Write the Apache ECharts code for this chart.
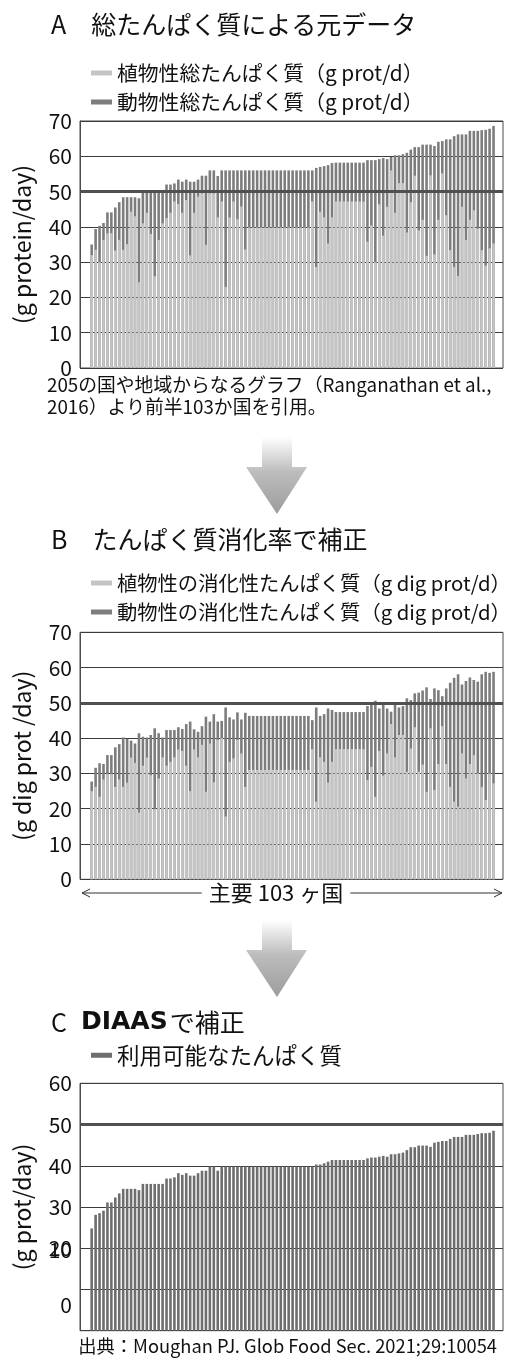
<!DOCTYPE html>
<html>
<head>
<meta charset="utf-8">
<script src="https://cdn.jsdelivr.net/npm/echarts@6/dist/echarts.min.js"></script>
<style>
  html, body { margin: 0; padding: 0; background: #fff; }
  #chart { width: 505px; height: 1362px; }
</style>
</head>
<body>
<div id="chart"></div>
<script>
// 103 countries, ordered by total protein supply
const countries = Array.from({ length: 103 }, (_, i) => String(i + 1));

// A: total protein supply (g/day) and its plant-based part
const totalA = [
  35.0, 39.4, 40.3, 41.1, 44.1, 44.1, 45.5, 47.0, 48.4, 48.4,
  48.4, 48.4, 48.1, 50.0, 50.0, 50.0, 50.0, 50.0, 50.0, 52.0,
  52.0, 52.3, 53.4, 52.8, 53.4, 52.8, 52.8, 53.4, 54.5, 54.5,
  56.0, 56.0, 54.4, 56.0, 56.0, 56.0, 56.0, 56.0, 56.0, 56.0,
  56.0, 56.0, 56.0, 56.0, 56.0, 56.0, 56.0, 56.0, 56.0, 56.0,
  56.0, 56.0, 56.0, 56.0, 56.0, 56.0, 56.0, 56.7, 57.0, 57.2,
  57.5, 58.1, 58.2, 58.2, 58.2, 58.2, 58.2, 58.2, 58.2, 58.2,
  58.9, 58.9, 58.9, 59.2, 59.5, 59.2, 59.8, 60.3, 60.3, 60.6,
  61.0, 61.9, 62.6, 62.6, 63.3, 63.3, 63.3, 62.9, 64.1, 64.3,
  64.8, 64.8, 65.7, 66.2, 66.2, 66.2, 67.2, 67.2, 67.2, 67.4,
  67.5, 67.8, 68.6
];
const plantA = [
  32.0, 33.5, 30.0, 36.3, 38.2, 38.2, 33.3, 36.3, 33.5, 35.1,
  44.3, 43.0, 24.3, 41.0, 44.0, 38.0, 26.0, 36.3, 41.0, 42.5,
  44.0, 47.2, 46.5, 44.0, 47.6, 31.9, 44.0, 48.6, 49.5, 34.9,
  49.5, 49.5, 42.7, 47.2, 23.0, 42.7, 47.2, 42.2, 45.8, 33.6,
  39.8, 39.8, 39.8, 39.8, 39.8, 39.8, 39.8, 39.8, 39.8, 39.8,
  39.8, 39.8, 39.8, 39.8, 39.8, 39.8, 47.2, 28.6, 44.3, 42.7,
  35.3, 42.7, 47.2, 47.2, 47.2, 47.2, 47.2, 47.2, 47.2, 47.2,
  35.8, 40.4, 30.0, 46.4, 37.5, 45.7, 56.0, 44.0, 52.4, 52.4,
  38.4, 47.0, 54.5, 39.0, 42.0, 31.8, 54.6, 32.2, 42.0, 55.2,
  43.3, 33.4, 28.6, 26.1, 45.7, 36.3, 42.0, 44.7, 39.5, 33.4,
  29.0, 33.9, 35.3
];

// B: digestible protein (g/day) and its plant-based part
const totalB = [
  27.7, 31.6, 32.9, 32.7, 35.2, 35.2, 37.4, 38.3, 40.2, 39.8,
  39.3, 38.5, 41.4, 40.4, 40.2, 40.9, 42.8, 41.4, 40.2, 42.3,
  42.3, 42.3, 43.1, 42.6, 44.0, 44.7, 42.5, 41.8, 43.4, 46.1,
  44.7, 46.8, 44.7, 44.9, 48.7, 45.9, 45.3, 47.3, 45.3, 47.2,
  46.3, 46.3, 46.3, 46.3, 46.3, 46.3, 46.3, 46.3, 46.3, 46.3,
  46.3, 46.3, 46.3, 46.3, 46.3, 46.3, 45.1, 48.7, 46.3, 46.8,
  48.4, 48.0, 47.4, 47.4, 47.4, 47.4, 47.4, 47.4, 47.4, 47.4,
  49.1, 49.9, 50.6, 48.4, 49.7, 48.4, 47.5, 49.7, 48.7, 49.1,
  51.3, 50.8, 52.7, 52.9, 53.5, 54.4, 51.1, 54.1, 53.6, 51.9,
  54.1, 55.7, 57.1, 58.1, 55.2, 56.2, 57.2, 56.5, 56.0, 58.1,
  58.8, 58.5, 58.8
];
const plantB = [
  25.0, 26.2, 23.4, 28.3, 29.8, 29.8, 26.2, 28.3, 26.2, 27.4,
  34.5, 33.0, 18.9, 32.2, 34.5, 29.5, 19.9, 28.6, 34.6, 32.2,
  33.3, 34.6, 36.8, 36.4, 32.2, 25.0, 36.8, 34.6, 38.1, 24.8,
  38.5, 27.5, 39.5, 40.0, 17.8, 33.3, 34.3, 39.5, 35.7, 26.2,
  31.0, 31.0, 31.0, 31.0, 31.0, 31.0, 31.0, 31.0, 31.0, 31.0,
  31.0, 31.0, 31.0, 31.0, 31.0, 31.0, 36.9, 22.0, 34.6, 33.3,
  27.4, 33.3, 36.9, 36.9, 36.9, 36.9, 36.9, 36.9, 36.9, 36.9,
  28.1, 31.9, 23.4, 36.4, 29.4, 35.7, 44.0, 34.6, 40.9, 40.9,
  30.5, 37.1, 43.1, 30.5, 32.5, 24.8, 42.8, 25.3, 32.7, 43.4,
  32.7, 26.2, 22.0, 20.6, 35.7, 28.6, 32.7, 35.2, 30.0, 26.2,
  22.5, 30.0, 27.2
];

// C: available protein after DIAAS correction (g/day)
const availableC = [
  24.8, 28.1, 28.5, 29.1, 31.1, 31.1, 32.3, 33.3, 34.4, 34.4,
  34.4, 34.4, 34.1, 35.6, 35.6, 35.6, 35.6, 35.6, 35.6, 36.9,
  36.9, 37.2, 38.2, 37.8, 38.2, 37.6, 37.6, 38.2, 38.8, 38.8,
  39.8, 39.8, 38.8, 39.8, 39.8, 39.8, 39.8, 39.8, 39.8, 39.8,
  39.8, 39.8, 39.8, 39.8, 39.8, 39.8, 39.8, 39.8, 39.8, 39.8,
  39.8, 39.8, 39.8, 39.8, 39.8, 39.8, 39.8, 40.3, 40.3, 40.6,
  41.0, 41.4, 41.4, 41.4, 41.4, 41.4, 41.4, 41.4, 41.4, 41.4,
  41.8, 42.0, 42.0, 42.2, 42.4, 42.2, 42.8, 42.8, 43.0, 43.2,
  43.8, 44.5, 44.5, 44.9, 44.9, 44.9, 44.6, 45.6, 45.8, 46.0,
  46.0, 46.5, 47.0, 47.0, 47.0, 47.5, 47.5, 47.5, 47.7, 47.9,
  47.9, 48.0, 48.5
];

// Reference requirement level drawn across each panel
const requirement = 50;

const FONT = '"Noto Sans CJK JP", "Noto Sans", sans-serif';
const LIGHT = '#c4c4c4';
const DARK = '#7d7d7d';
const DARK_C = '#6e6e6e';
const INK = '#111';

const names = {
  plantA: '植物性総たんぱく質（g prot/d）',
  animalA: '動物性総たんぱく質（g prot/d）',
  plantB: '植物性の消化性たんぱく質（g dig prot/d）',
  animalB: '動物性の消化性たんぱく質（g dig prot/d）',
  availC: '利用可能なたんぱく質'
};

// Plot frames (with ticks and grid lines) and the narrower band holding the bars
const panels = [
  { top: 121, height: 247, max: 70, axisName: '(g protein/day)' },
  { top: 632.3, height: 247, max: 70, axisName: '(g dig prot /day)' },
  { top: 1083.3, height: 247.4, max: 60, axisName: '(g prot/day)' }
];
const FRAME_LEFT = 80, FRAME_WIDTH = 423;
const BAR_LEFT = 89.7, BAR_WIDTH = 405.8;
const TICK_SIZE = 21;

const grid = [], xAxis = [], yAxis = [];
panels.forEach((p, k) => {
  grid.push({ left: FRAME_LEFT, top: p.top, width: FRAME_WIDTH, height: p.height,
              show: true, borderColor: '#4a4a4a', borderWidth: 1, backgroundColor: 'transparent' });
  grid.push({ left: BAR_LEFT, top: p.top, width: BAR_WIDTH, height: p.height });
  xAxis.push({ gridIndex: 2 * k, type: 'value', min: 0, max: 1, show: false });
  xAxis.push({ gridIndex: 2 * k + 1, type: 'category', data: countries, show: false });
  const isC = k === 2;
  yAxis.push({
    gridIndex: 2 * k, type: 'value', min: 0, max: p.max, interval: 10,
    name: p.axisName, nameLocation: 'middle', nameGap: 46, nameRotate: 90,
    nameTextStyle: { fontFamily: FONT, fontSize: 23, color: INK },
    axisLine: { show: true, lineStyle: { color: '#4a4a4a', width: 1 } },
    axisTick: { show: false },
    axisLabel: {
      fontFamily: FONT, fontSize: TICK_SIZE, color: INK, margin: 8,
      formatter: isC
        ? (v) => (v === 10 ? '{u10|10}' : v === 0 ? '{u0|0}' : String(v))
        : (v) => String(v),
      rich: {
        u10: { fontFamily: FONT, fontSize: TICK_SIZE, color: INK, padding: [0, 0, 78, 0] },
        u0: { fontFamily: FONT, fontSize: TICK_SIZE, color: INK, padding: [0, 0, 52, 0] }
      }
    },
    splitLine: { show: true, lineStyle: { color: '#3c3c3c', width: 1 } }
  });
  yAxis.push({ gridIndex: 2 * k + 1, type: 'value', min: 0, max: p.max, show: false });
});

function barSeries(name, data, k, color) {
  return {
    name, type: 'bar', data,
    xAxisIndex: 2 * k + 1, yAxisIndex: 2 * k + 1,
    barWidth: '66%', barGap: '-100%',
    itemStyle: { color }, silent: true, z: 3,
    animation: false
  };
}
function levelLine(k) {
  return {
    type: 'line', data: [], xAxisIndex: 2 * k, yAxisIndex: 2 * k, z: 6,
    silent: true, animation: false,
    markLine: {
      symbol: 'none', silent: true, animation: false,
      label: { show: false },
      lineStyle: { color: '#505050', width: 3, type: 'solid' },
      data: [{ yAxis: requirement }]
    }
  };
}

const series = [
  barSeries(names.animalA, totalA, 0, DARK),
  barSeries(names.plantA, plantA, 0, LIGHT),
  levelLine(0),
  barSeries(names.animalB, totalB, 1, DARK),
  barSeries(names.plantB, plantB, 1, LIGHT),
  levelLine(1),
  barSeries(names.availC, availableC, 2, DARK_C),
  levelLine(2)
];

function legendAt(top, data, size) {
  return {
    orient: 'vertical', left: 86, top, itemWidth: 21, itemHeight: 5, itemGap: 8,
    icon: 'rect', selectedMode: false, data,
    textStyle: { fontFamily: FONT, fontSize: size, color: INK, lineHeight: 21 }
  };
}

const titleStyle = { fontFamily: FONT, fontSize: 25, fontWeight: 'normal', color: INK };

// Gray downward arrows between panels, shaded from white at the top
function downArrow(y0) {
  return {
    type: 'polygon', silent: true,
    shape: { points: [[262, y0], [292, y0], [292, y0 + 30], [307, y0 + 30], [277, y0 + 77],
                      [246, y0 + 30], [262, y0 + 30]] },
    style: {
      fill: new echarts.graphic.LinearGradient(0, 0, 0, 1, [
        { offset: 0, color: '#ffffff' }, { offset: 0.45, color: '#bdbdbd' }, { offset: 1, color: '#9c9c9c' }
      ])
    }
  };
}

const graphic = [
  {
    type: 'text', left: 47, top: 374, silent: true,
    style: {
      text: '205の国や地域からなるグラフ（Ranganathan et al.,\n2016）より前半103か国を引用。',
      font: '18.8px ' + FONT, fill: INK, lineHeight: 22
    }
  },
  downArrow(437),
  downArrow(920),
  // Country span marker under panel B
  { type: 'line', silent: true, shape: { x1: 82, y1: 893, x2: 502, y2: 893 },
    style: { stroke: '#333', lineWidth: 1 } },
  { type: 'polyline', silent: true, shape: { points: [[90, 889], [82, 893], [90, 897]] },
    style: { stroke: '#333', lineWidth: 1, fill: null } },
  { type: 'polyline', silent: true, shape: { points: [[494, 889], [502, 893], [494, 897]] },
    style: { stroke: '#333', lineWidth: 1, fill: null } },
  { type: 'text', silent: true, x: 276, y: 893,
    style: { text: '主要 103 ヶ国', font: '22px ' + FONT, fill: INK, align: 'center',
             verticalAlign: 'middle', backgroundColor: '#fff', padding: [0, 7, 0, 7] } },
  {
    type: 'text', silent: true, x: 497, y: 1346,
    style: { text: '出典：Moughan PJ. Glob Food Sec. 2021;29:10054', font: '18.3px ' + FONT,
             fill: INK, align: 'right', verticalAlign: 'middle' }
  }
];

const option = {
  animation: false,
  backgroundColor: '#fff',
  title: [
    { text: 'A　総たんぱく質による元データ', left: 46, top: 7, textStyle: titleStyle },
    { text: 'B　たんぱく質消化率で補正', left: 46, top: 522, textStyle: titleStyle },
    {
      text: '{n|C}{b|DIAAS}{n|で補正}', left: 46, top: 1005,
      textStyle: {
        fontWeight: 'normal',
        rich: {
          n: { fontFamily: FONT, fontSize: 25, fontWeight: 'normal', color: INK },
          b: { fontFamily: '"DejaVu Sans", sans-serif', fontSize: 25, fontWeight: 'bold',
               color: INK, padding: [0, 2, 0, 14] }
        }
      }
    }
  ],
  legend: [
    legendAt(57.5, [names.plantA, names.animalA], 20.8),
    legendAt(567.5, [names.plantB, names.animalB], 20.3),
    legendAt(1039, [names.availC], 22.5)
  ],
  grid, xAxis, yAxis, series, graphic
};

const chart = echarts.init(document.getElementById('chart'), null, { renderer: 'canvas' });
chart.setOption(option);
</script>
</body>
</html>
